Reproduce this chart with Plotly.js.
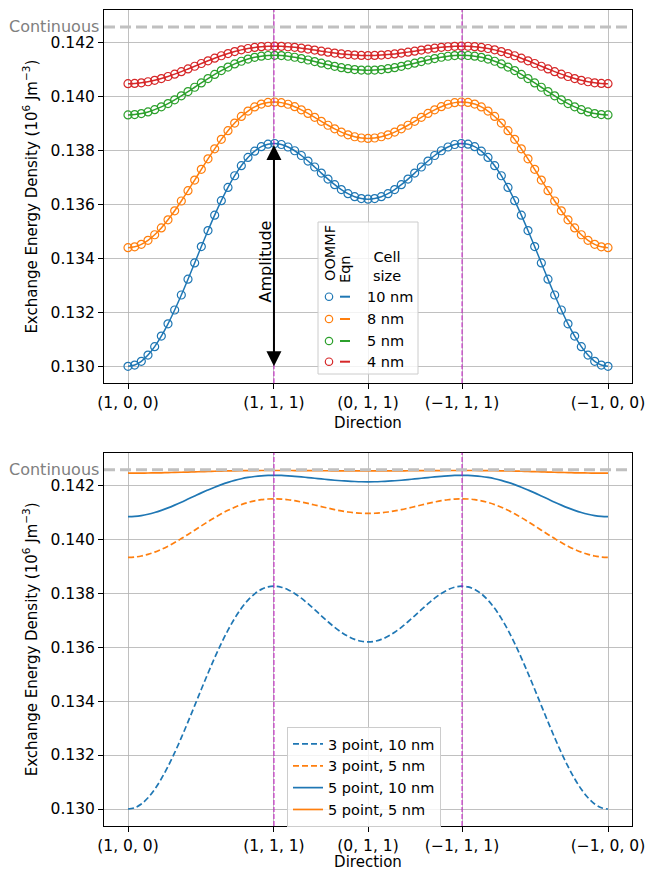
<!DOCTYPE html>
<html>
<head>
<meta charset="utf-8">
<script src="https://cdn.plot.ly/plotly-3.0.1.min.js"></script>
<style>html,body{margin:0;padding:0;background:#fff;}#chart{width:657px;height:871px;}</style>
</head>
<body>
<div id="chart"></div>
<script>
// Angle along the great circle (1,0,0) -> (1,1,1) -> (0,1,1) -> (-1,1,1) -> (-1,0,0), degrees
const angle = [0,2.5,5,7.5,10,12.5,15,17.5,20,22.5,25,27.5,30,32.5,35,37.5,40,42.5,45,47.5,50,52.5,55,57.5,60,62.5,65,67.5,70,72.5,75,77.5,80,82.5,85,87.5,90,92.5,95,97.5,100,102.5,105,107.5,110,112.5,115,117.5,120,122.5,125,127.5,130,132.5,135,137.5,140,142.5,145,147.5,150,152.5,155,157.5,160,162.5,165,167.5,170,172.5,175,177.5,180];

const tickAngles = [0, 54.7356, 90, 125.2644, 180];
const tickLabels = ["(1, 0, 0)", "(1, 1, 1)", "(0, 1, 1)", "(\u22121, 1, 1)", "(\u22121, 0, 0)"];
const markerAngles = [54.7356, 125.2644];
const continuousValue = 0.14258;
const amplitudeTop = 0.13826, amplitudeBottom = 0.13000;

const cellSizes = ["10 nm", "8 nm", "5 nm", "4 nm"];

const e10 = [0.130000,0.130047,0.130187,0.130417,0.130730,0.131120,0.131577,0.132089,0.132644,0.133230,0.133833,0.134439,0.135033,0.135605,0.136141,0.136631,0.137066,0.137438,0.137744,0.137978,0.138142,0.138234,0.138260,0.138223,0.138131,0.137992,0.137815,0.137611,0.137390,0.137163,0.136942,0.136735,0.136552,0.136401,0.136288,0.136219,0.136195,0.136219,0.136288,0.136401,0.136552,0.136735,0.136942,0.137163,0.137390,0.137611,0.137815,0.137992,0.138131,0.138223,0.138260,0.138234,0.138142,0.137978,0.137744,0.137438,0.137066,0.136631,0.136141,0.135605,0.135033,0.134439,0.133833,0.133230,0.132644,0.132089,0.131577,0.131120,0.130730,0.130417,0.130187,0.130047,0.130000];

const e8 = [0.134400,0.134431,0.134522,0.134672,0.134877,0.135132,0.135431,0.135766,0.136129,0.136512,0.136906,0.137302,0.137691,0.138064,0.138415,0.138735,0.139019,0.139263,0.139463,0.139616,0.139723,0.139783,0.139800,0.139776,0.139716,0.139625,0.139509,0.139376,0.139231,0.139083,0.138938,0.138803,0.138683,0.138584,0.138511,0.138465,0.138450,0.138465,0.138511,0.138584,0.138683,0.138803,0.138938,0.139083,0.139231,0.139376,0.139509,0.139625,0.139716,0.139776,0.139800,0.139783,0.139723,0.139616,0.139463,0.139263,0.139019,0.138735,0.138415,0.138064,0.137691,0.137302,0.136906,0.136512,0.136129,0.135766,0.135431,0.135132,0.134877,0.134672,0.134522,0.134431,0.134400];

const e5 = [0.139320,0.139333,0.139370,0.139432,0.139515,0.139620,0.139742,0.139879,0.140028,0.140184,0.140346,0.140508,0.140667,0.140820,0.140963,0.141094,0.141211,0.141310,0.141392,0.141455,0.141498,0.141523,0.141530,0.141520,0.141496,0.141458,0.141411,0.141356,0.141297,0.141237,0.141177,0.141122,0.141073,0.141033,0.141002,0.140984,0.140978,0.140984,0.141002,0.141033,0.141073,0.141122,0.141177,0.141237,0.141297,0.141356,0.141411,0.141458,0.141496,0.141520,0.141530,0.141523,0.141498,0.141455,0.141392,0.141310,0.141211,0.141094,0.140963,0.140820,0.140667,0.140508,0.140346,0.140184,0.140028,0.139879,0.139742,0.139620,0.139515,0.139432,0.139370,0.139333,0.139320];

const e4 = [0.140480,0.140488,0.140512,0.140550,0.140603,0.140669,0.140745,0.140832,0.140925,0.141024,0.141125,0.141227,0.141327,0.141423,0.141513,0.141596,0.141669,0.141732,0.141783,0.141823,0.141850,0.141866,0.141870,0.141864,0.141848,0.141825,0.141795,0.141761,0.141724,0.141685,0.141648,0.141613,0.141582,0.141557,0.141538,0.141526,0.141522,0.141526,0.141538,0.141557,0.141582,0.141613,0.141648,0.141685,0.141724,0.141761,0.141795,0.141825,0.141848,0.141864,0.141870,0.141866,0.141850,0.141823,0.141783,0.141732,0.141669,0.141596,0.141513,0.141423,0.141327,0.141227,0.141125,0.141024,0.140925,0.140832,0.140745,0.140669,0.140603,0.140550,0.140512,0.140488,0.140480];

// Bottom panel
const bottomNames = ["3 point, 10 nm", "3 point, 5 nm", "5 point, 10 nm", "5 point, 5 nm"];
const p3_10 = e10;
const p3_5 = [0.139330,0.139343,0.139379,0.139440,0.139522,0.139624,0.139744,0.139879,0.140025,0.140179,0.140337,0.140496,0.140652,0.140802,0.140943,0.141072,0.141186,0.141284,0.141364,0.141426,0.141469,0.141493,0.141500,0.141490,0.141466,0.141430,0.141383,0.141329,0.141271,0.141212,0.141154,0.141099,0.141051,0.141012,0.140982,0.140964,0.140958,0.140964,0.140982,0.141012,0.141051,0.141099,0.141154,0.141212,0.141271,0.141329,0.141383,0.141430,0.141466,0.141490,0.141500,0.141493,0.141469,0.141426,0.141364,0.141284,0.141186,0.141072,0.140943,0.140802,0.140652,0.140496,0.140337,0.140179,0.140025,0.139879,0.139744,0.139624,0.139522,0.139440,0.139379,0.139343,0.139330];

const p5_10 = [0.140840,0.140850,0.140879,0.140927,0.140991,0.141071,0.141163,0.141266,0.141375,0.141490,0.141605,0.141719,0.141828,0.141931,0.142026,0.142110,0.142183,0.142244,0.142292,0.142328,0.142353,0.142366,0.142370,0.142365,0.142353,0.142335,0.142313,0.142288,0.142262,0.142236,0.142211,0.142188,0.142169,0.142153,0.142141,0.142133,0.142131,0.142133,0.142141,0.142153,0.142169,0.142188,0.142211,0.142236,0.142262,0.142288,0.142313,0.142335,0.142353,0.142365,0.142370,0.142366,0.142353,0.142328,0.142292,0.142244,0.142183,0.142110,0.142026,0.141931,0.141828,0.141719,0.141605,0.141490,0.141375,0.141266,0.141163,0.141071,0.140991,0.140927,0.140879,0.140850,0.140840];

const p5_5 = [0.142450,0.142451,0.142453,0.142456,0.142460,0.142465,0.142471,0.142478,0.142485,0.142492,0.142500,0.142507,0.142515,0.142521,0.142528,0.142533,0.142538,0.142542,0.142545,0.142547,0.142549,0.142550,0.142550,0.142550,0.142549,0.142548,0.142546,0.142545,0.142543,0.142541,0.142540,0.142538,0.142537,0.142536,0.142535,0.142535,0.142534,0.142535,0.142535,0.142536,0.142537,0.142538,0.142540,0.142541,0.142543,0.142545,0.142546,0.142548,0.142549,0.142550,0.142550,0.142550,0.142549,0.142547,0.142545,0.142542,0.142538,0.142533,0.142528,0.142521,0.142515,0.142507,0.142500,0.142492,0.142485,0.142478,0.142471,0.142465,0.142460,0.142456,0.142453,0.142451,0.142450];

const colors = ["#1f77b4", "#ff7f0e", "#2ca02c", "#d62728"];
const FONT = "DejaVu Sans, sans-serif";
const FS = 15.5, LFS = 14.5, TFS = 15;

const topSeries = [e10, e8, e5, e4];
const traces = [];
topSeries.forEach((ys, i) => {
  traces.push({
    x: angle, y: ys, xaxis: 'x', yaxis: 'y', type: 'scatter', mode: 'lines+markers',
    name: cellSizes[i], showlegend: false,
    line: {color: colors[i], width: 1.5, shape: 'spline', smoothing: 1},
    marker: {symbol: 'circle-open', size: 8, color: colors[i], line: {width: 1.2, color: colors[i]}}
  });
});
const bottomSeries = [p3_10, p3_5, p5_10, p5_5];
const bottomStyles = [
  {color: colors[0], dash: '6px,3px'},
  {color: colors[1], dash: '6px,3px'},
  {color: colors[0], dash: 'solid'},
  {color: colors[1], dash: 'solid'}
];
bottomSeries.forEach((ys, i) => {
  traces.push({
    x: angle, y: ys, xaxis: 'x2', yaxis: 'y2', type: 'scatter', mode: 'lines',
    name: bottomNames[i], showlegend: true,
    line: {color: bottomStyles[i].color, dash: bottomStyles[i].dash, width: 1.7, shape: 'spline', smoothing: 1}
  });
});

const yr = [0.12937, 0.14321];
const xr = [-9, 189];
function xaxisDef(anchor) {
  return {
    anchor: anchor, range: xr, tickmode: 'array', tickvals: tickAngles, ticktext: tickLabels,
    showgrid: true, gridcolor: '#b0b0b0', gridwidth: 0.8, zeroline: false,
    showline: true, mirror: true, linecolor: '#000', linewidth: 1,
    ticks: 'outside', ticklen: 5, tickcolor: '#000', tickfont: {size: FS, color: '#000'},
    title: {text: 'Direction', font: {size: TFS, color: '#000'}, standoff: 6}
  };
}
function yaxisDef(anchor, domain) {
  return {
    anchor: anchor, domain: domain, range: yr, tick0: 0.130, dtick: 0.002, tickformat: '.3f',
    showgrid: true, gridcolor: '#b0b0b0', gridwidth: 0.8, zeroline: false,
    showline: true, mirror: true, linecolor: '#000', linewidth: 1,
    ticks: 'outside', ticklen: 5, tickcolor: '#000', tickfont: {size: FS, color: '#000'},
    title: {text: 'Exchange Energy Density (10<sup>6</sup> Jm<sup>\u22123</sup>)', font: {size: TFS, color: '#000'}, standoff: 9}
  };
}

const shapes = [];
const annotations = [];
[['x', 'y'], ['x2', 'y2']].forEach(([xa, ya]) => {
  markerAngles.forEach(a => {
    shapes.push({type: 'line', xref: xa, yref: ya + ' domain', x0: a, x1: a, y0: 0, y1: 1,
      line: {color: 'rgba(191,0,191,0.6)', width: 1.5, dash: '5px,2px'}});
  });
  shapes.push({type: 'line', xref: xa + ' domain', yref: ya, x0: 0, x1: 1, y0: continuousValue, y1: continuousValue,
    line: {color: '#c0c0c0', width: 3, dash: '11px,5px'}});
  annotations.push({xref: xa + ' domain', yref: ya, x: -0.006, y: continuousValue, xanchor: 'right', yanchor: 'middle',
    text: 'Continuous', showarrow: false, font: {size: 16, color: '#808080'}});
});

// Amplitude arrow
annotations.push({xref: 'x', yref: 'y', x: tickAngles[1], y: amplitudeBottom, axref: 'x', ayref: 'y',
  ax: tickAngles[1], ay: amplitudeTop, text: '', showarrow: true, arrowside: 'end+start',
  arrowhead: 2, arrowsize: 1.5, arrowwidth: 2, arrowcolor: '#000', standoff: 0, startstandoff: 0});
annotations.push({xref: 'x', yref: 'y', x: 51.75, y: 0.133884, text: 'Amplitude', textangle: -90,
  xanchor: 'center', yanchor: 'middle', showarrow: false, font: {size: 16, color: '#000'}});

// Custom top legend (paper coordinates)
const W = 528, H = 816, L = 104, B = 826;
const px = v => (v - L) / W, py = v => (B - v) / H;
shapes.push({type: 'rect', xref: 'paper', yref: 'paper', x0: px(318), x1: px(418), y0: py(374), y1: py(222),
  fillcolor: 'rgba(255,255,255,0.8)', line: {color: '#cccccc', width: 1}, layer: 'above'});
annotations.push({xref: 'paper', yref: 'paper', x: px(330), y: py(253), text: 'OOMMF', textangle: -90,
  xanchor: 'center', yanchor: 'middle', showarrow: false, font: {size: LFS, color: '#000'}});
annotations.push({xref: 'paper', yref: 'paper', x: px(345), y: py(269), text: 'Eqn', textangle: -90,
  xanchor: 'center', yanchor: 'middle', showarrow: false, font: {size: LFS, color: '#000'}});
annotations.push({xref: 'paper', yref: 'paper', x: px(387), y: py(266.5), text: 'Cell<br>size',
  xanchor: 'center', yanchor: 'middle', showarrow: false, font: {size: LFS, color: '#000'}});
const rowY = [296.7, 319, 341, 361.7];
cellSizes.forEach((lab, i) => {
  shapes.push({type: 'circle', xref: 'paper', yref: 'paper', xsizemode: 'pixel', ysizemode: 'pixel',
    xanchor: px(329), yanchor: py(rowY[i]), x0: -3.7, x1: 3.7, y0: -3.7, y1: 3.7,
    line: {color: colors[i], width: 1.2}, fillcolor: 'rgba(0,0,0,0)', layer: 'above'});
  shapes.push({type: 'line', xref: 'paper', yref: 'paper', x0: px(340), x1: px(350), y0: py(rowY[i]), y1: py(rowY[i]),
    line: {color: colors[i], width: 2}, layer: 'above'});
  annotations.push({xref: 'paper', yref: 'paper', x: px(365), y: py(rowY[i]), xanchor: 'left', yanchor: 'middle',
    text: lab, showarrow: false, font: {size: LFS, color: '#000'}});
});

const layout = {
  width: 657, height: 871,
  margin: {l: 104, r: 25, t: 10, b: 45},
  paper_bgcolor: '#fff', plot_bgcolor: '#fff',
  font: {family: FONT, size: FS, color: '#000'},
  xaxis: xaxisDef('y'),
  yaxis: yaxisDef('x', [0.5425, 1]),
  xaxis2: xaxisDef('y2'),
  yaxis2: yaxisDef('x2', [0, 0.4575]),
  showlegend: true,
  legend: {x: px(287), y: py(727), xanchor: 'left', yanchor: 'top', bgcolor: 'rgba(255,255,255,0.8)',
    bordercolor: '#cccccc', borderwidth: 1, font: {size: LFS, color: '#000'}, tracegroupgap: 0},
  shapes: shapes,
  annotations: annotations
};

Plotly.newPlot('chart', traces, layout, {displayModeBar: false, staticPlot: true});
</script>
</body>
</html>
